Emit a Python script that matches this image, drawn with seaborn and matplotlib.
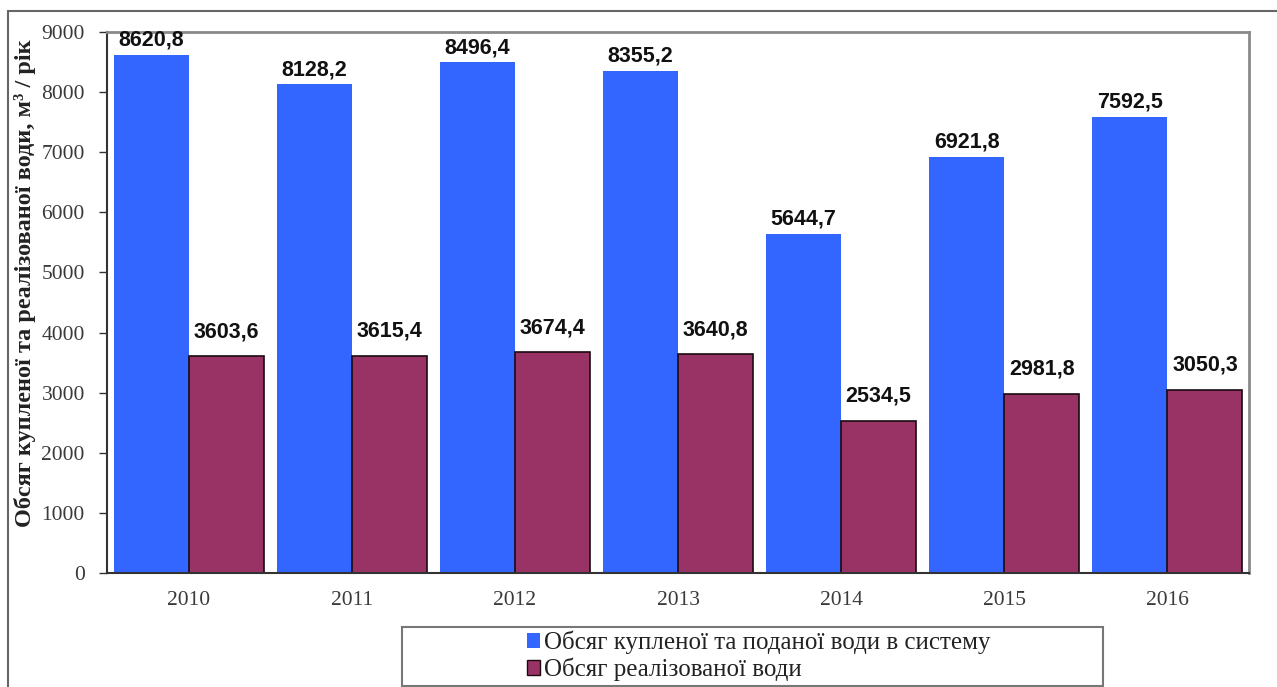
import matplotlib
matplotlib.use("Agg")
import matplotlib.pyplot as plt
from matplotlib.patches import Rectangle, Patch
import seaborn as sns
import pandas as pd

years = ["2010", "2011", "2012", "2013", "2014", "2015", "2016"]
supplied = [8620.8, 8128.2, 8496.4, 8355.2, 5644.7, 6921.8, 7592.5]
sold = [3603.6, 3615.4, 3674.4, 3640.8, 2534.5, 2981.8, 3050.3]
series_names = ["Обсяг купленої та поданої води в систему",
                "Обсяг реалізованої води"]
colors = ["#3366FF", "#993366"]
y_ticks = [0, 1000, 2000, 3000, 4000, 5000, 6000, 7000, 8000, 9000]

df = pd.DataFrame({
    "year": years * 2,
    "value": supplied + sold,
    "series": [series_names[0]] * len(years) + [series_names[1]] * len(years),
})

sns.set_theme(style="white")
plt.rcParams["font.family"] = ["Liberation Serif", "DejaVu Serif"]

W, H = 1277, 687
fig = plt.figure(figsize=(W / 100, H / 100), dpi=100)
ax = fig.add_axes([107 / W, 1 - 573 / H, (1249 - 107) / W, (573 - 32) / H])

sns.barplot(data=df, x="year", y="value", hue="series", order=years,
            hue_order=series_names, palette=colors, width=0.92,
            saturation=1, legend=False, ax=ax)

# bar edges: the second series has a dark outline
for container, edge in zip(ax.containers, ["none", "#1a0a10"]):
    for bar in container:
        bar.set_edgecolor(edge)
        bar.set_linewidth(1.2 if edge != "none" else 0)

fmt = lambda v: f"{v:.1f}".replace(".", ",")
for container, pad in zip(ax.containers, [3, 10]):
    ax.bar_label(container, labels=[fmt(b.get_height()) for b in container],
                 padding=pad, fontsize=15.5, fontweight="bold",
                 family="Liberation Sans", color="#111111")

ax.set_ylim(0, 9000)
ax.set_xlim(-0.5, len(years) - 0.5)
ax.set_yticks(y_ticks)
ax.set_yticklabels([str(t) for t in y_ticks], fontsize=15.5, color="#3a3a3a")
ax.set_xticks(range(len(years)))
ax.set_xticklabels(years, fontsize=15.5, color="#3a3a3a")
ax.set_xticks([i - 0.5 for i in range(len(years) + 1)], minor=True)
ax.tick_params(axis="x", which="major", length=0, pad=13)
ax.tick_params(axis="x", which="minor", length=6, width=1, color="#333333",
               direction="out")
ax.tick_params(axis="y", length=6, width=1, color="#333333", direction="out",
               left=True, pad=10)
ax.set_xlabel("")
ax.set_ylabel("Обсяг купленої та реалізованої води, м³ / рік",
              fontsize=17.5, fontweight="bold", color="#222222")
ax.yaxis.set_label_coords(-0.062, 0.535)

for side in ["left", "bottom"]:
    ax.spines[side].set_color("#333333")
    ax.spines[side].set_linewidth(1.5)
for side in ["top", "right"]:
    ax.spines[side].set_color("#8a8a8a")
    ax.spines[side].set_linewidth(2)
    ax.spines[side].set_visible(True)

# outer chart frame
fig.patches.append(Rectangle((8 / W, -0.1), 1.2, 1 - 11 / H + 0.1,
                             transform=fig.transFigure, fill=False,
                             edgecolor="#666666", linewidth=1.5))

# legend box
fig.patches.append(Rectangle((402 / W, 1 - 686 / H), (1103 - 402) / W,
                             (686 - 627) / H, transform=fig.transFigure,
                             fill=False, edgecolor="#777777", linewidth=1.5))
handles = [Patch(facecolor=colors[0], edgecolor="none"),
           Patch(facecolor=colors[1], edgecolor="#1a0a10", linewidth=1)]
fig.legend(handles, series_names, loc="upper left",
           bbox_to_anchor=(514 / W, 1 - 618 / H), frameon=False,
           fontsize=18, handlelength=0.55, handleheight=0.55,
           handletextpad=0.15, labelspacing=0.15, borderpad=0,
           labelcolor="#222222")

fig.savefig("out.png", dpi=100)
